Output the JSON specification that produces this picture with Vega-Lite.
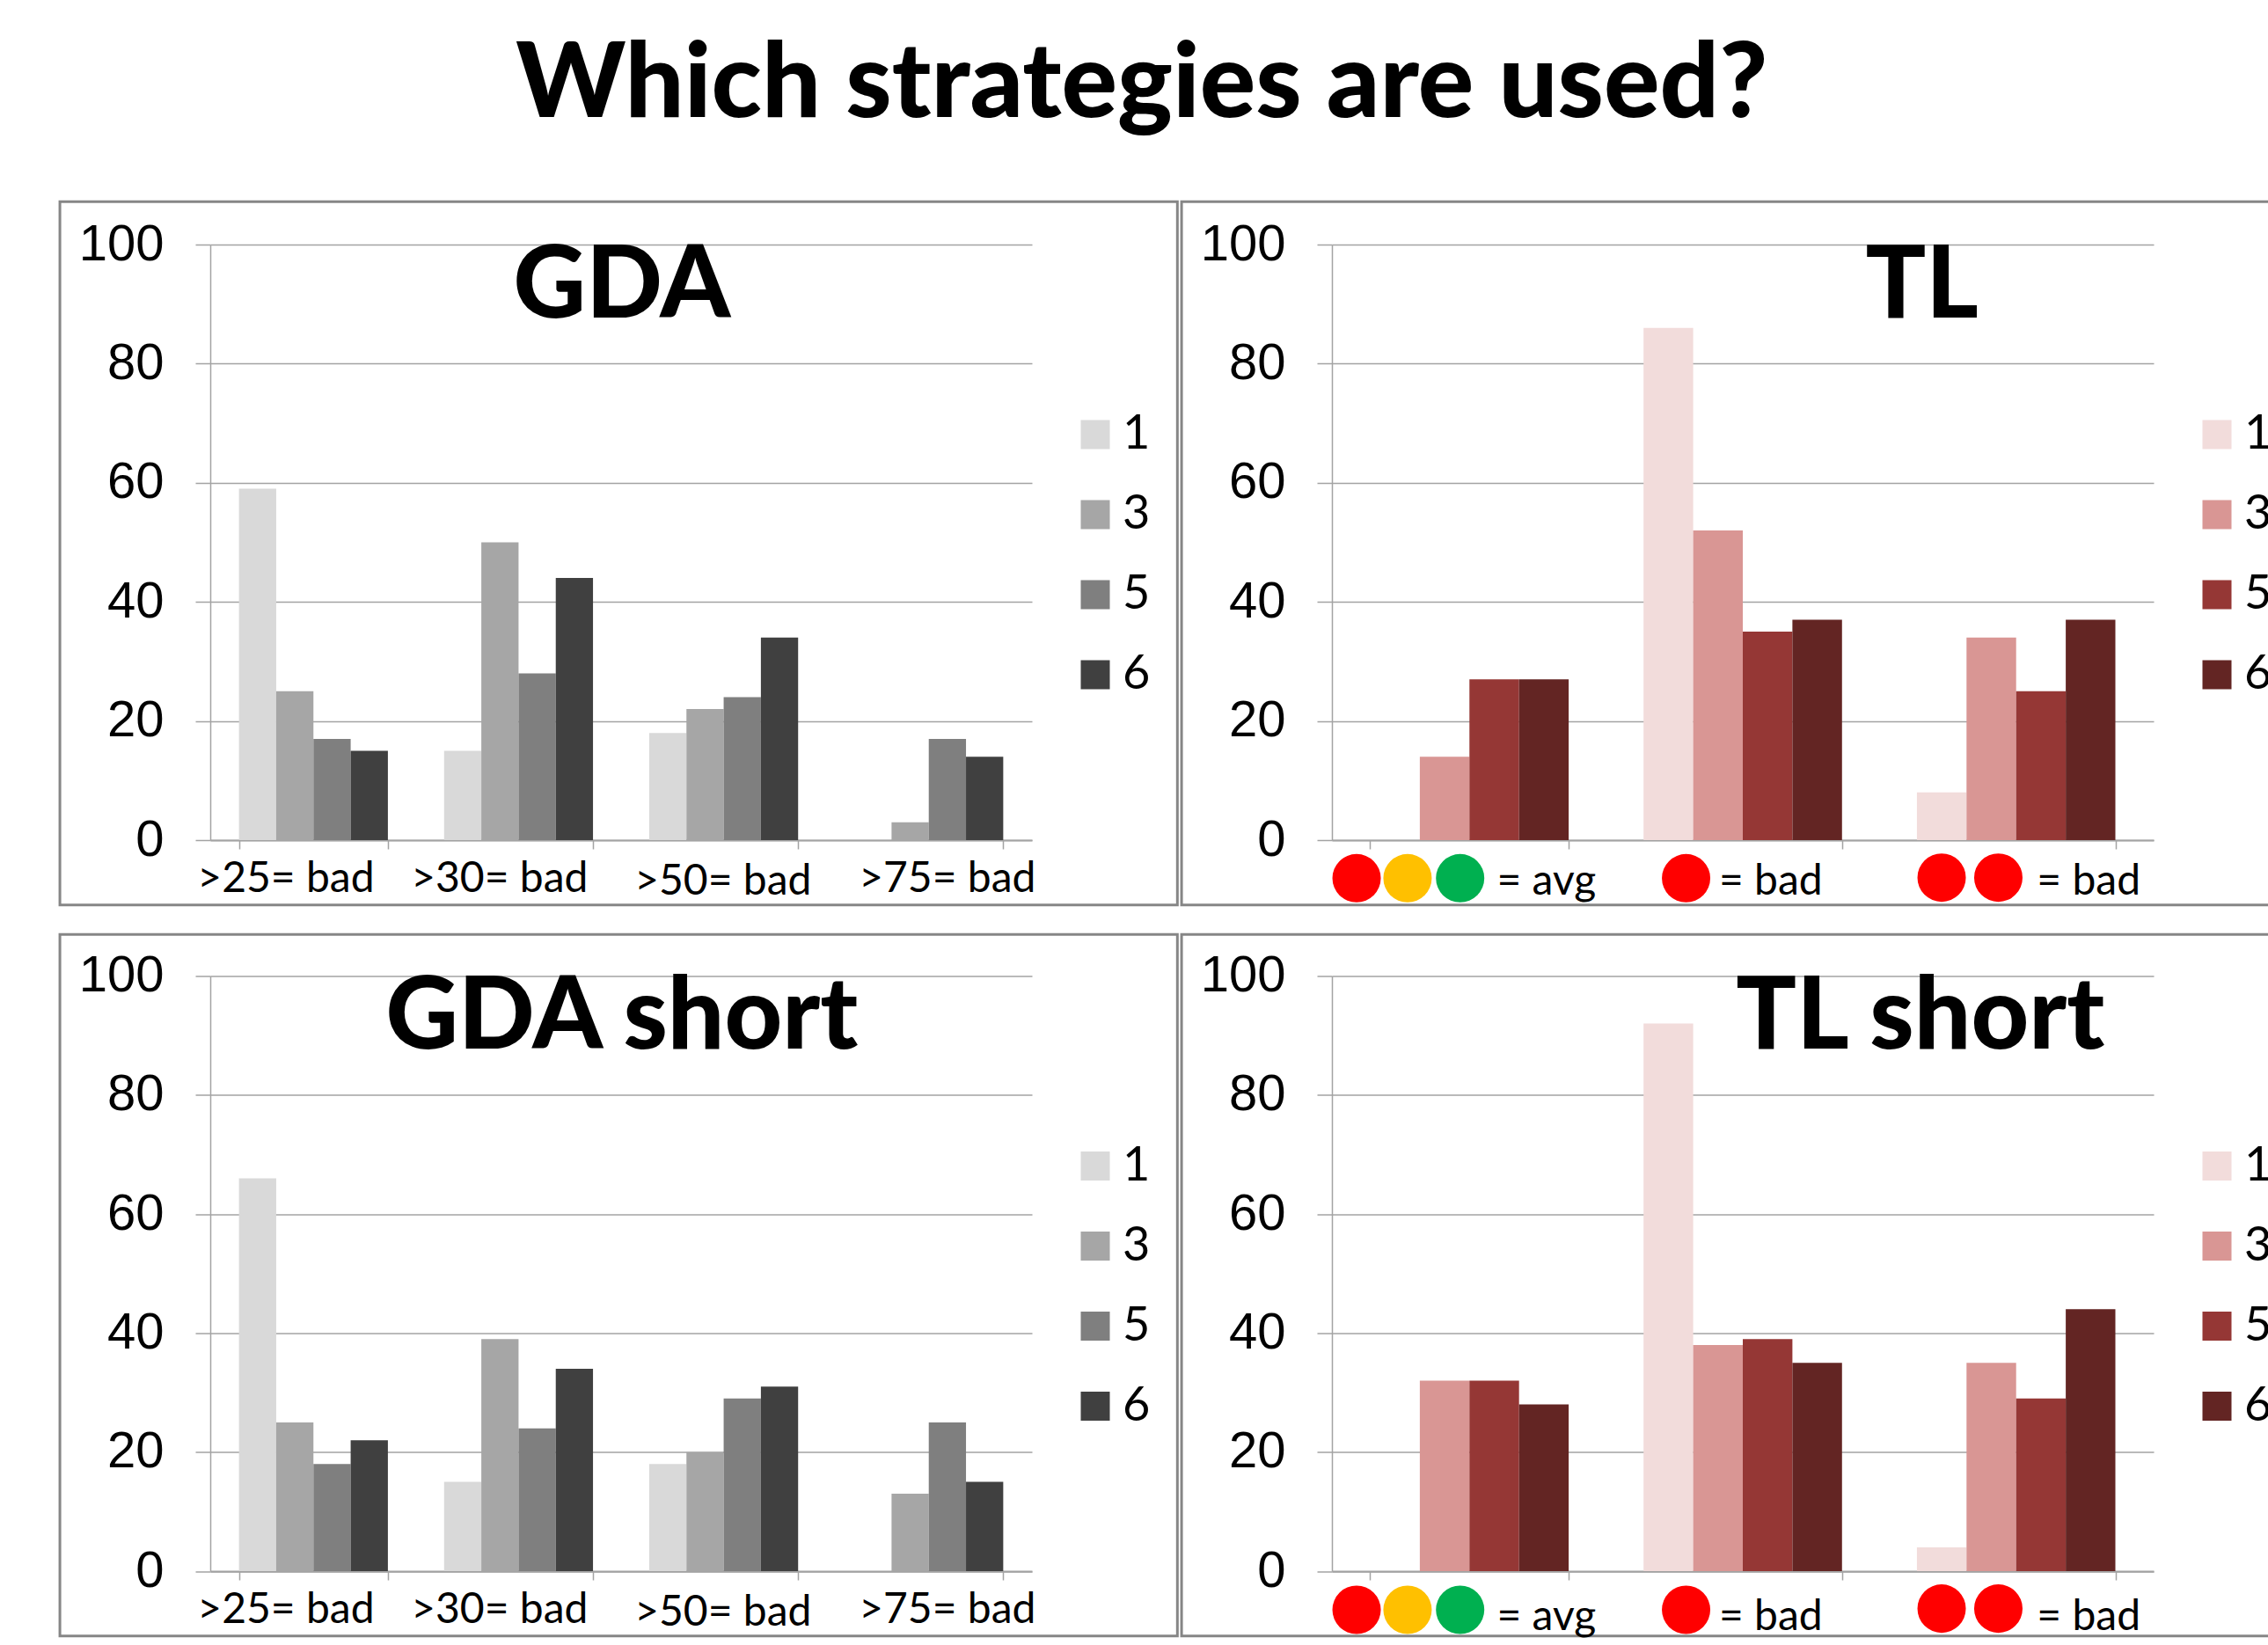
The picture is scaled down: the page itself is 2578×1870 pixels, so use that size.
{"$schema":"https://vega.github.io/schema/vega-lite/v6.json","background":"white","padding":{"left":66,"top":38,"right":0,"bottom":0},"title":{"text":"Which strategies are used?","font":"Lato","fontWeight":900,"fontSize":118.5,"color":"#000000","anchor":"middle","offset":70,"dx":-35},"resolve":{"scale":{"color":"independent","xOffset":"independent"},"legend":{"color":"independent"}},"config":{"view":{"stroke":null},"axisY":{"grid":true,"gridColor":"#a3a3a3","gridWidth":1.5,"domainColor":"#a3a3a3","domainWidth":1.5,"tickColor":"#a3a3a3","tickWidth":1.5,"tickSize":17,"labelFont":"Liberation Sans","labelFontSize":58,"labelColor":"#000000","labelPadding":36,"title":null},"axisX":{"labels":false,"tickBand":"extent","domainColor":"#a3a3a3","domainWidth":2,"tickColor":"#a3a3a3","tickWidth":1.5,"tickSize":10,"title":null,"grid":false},"legend":{"orient":"none","legendX":979,"legendY":189,"title":null,"symbolType":"square","symbolSize":1089,"labelFont":"Lato","labelFontSize":54,"labelColor":"#000000","labelOffset":4,"rowPadding":37,"symbolStrokeWidth":0}},"datasets":{"bars":[{"panel":"GDA","cat":">25","series":"1","value":59},{"panel":"GDA","cat":">25","series":"3","value":25},{"panel":"GDA","cat":">25","series":"5","value":17},{"panel":"GDA","cat":">25","series":"6","value":15},{"panel":"GDA","cat":">30","series":"1","value":15},{"panel":"GDA","cat":">30","series":"3","value":50},{"panel":"GDA","cat":">30","series":"5","value":28},{"panel":"GDA","cat":">30","series":"6","value":44},{"panel":"GDA","cat":">50","series":"1","value":18},{"panel":"GDA","cat":">50","series":"3","value":22},{"panel":"GDA","cat":">50","series":"5","value":24},{"panel":"GDA","cat":">50","series":"6","value":34},{"panel":"GDA","cat":">75","series":"1","value":0},{"panel":"GDA","cat":">75","series":"3","value":3},{"panel":"GDA","cat":">75","series":"5","value":17},{"panel":"GDA","cat":">75","series":"6","value":14},{"panel":"TL","cat":"avg","series":"1","value":0},{"panel":"TL","cat":"avg","series":"3","value":14},{"panel":"TL","cat":"avg","series":"5","value":27},{"panel":"TL","cat":"avg","series":"6","value":27},{"panel":"TL","cat":"bad1","series":"1","value":86},{"panel":"TL","cat":"bad1","series":"3","value":52},{"panel":"TL","cat":"bad1","series":"5","value":35},{"panel":"TL","cat":"bad1","series":"6","value":37},{"panel":"TL","cat":"bad2","series":"1","value":8},{"panel":"TL","cat":"bad2","series":"3","value":34},{"panel":"TL","cat":"bad2","series":"5","value":25},{"panel":"TL","cat":"bad2","series":"6","value":37},{"panel":"GDA short","cat":">25","series":"1","value":66},{"panel":"GDA short","cat":">25","series":"3","value":25},{"panel":"GDA short","cat":">25","series":"5","value":18},{"panel":"GDA short","cat":">25","series":"6","value":22},{"panel":"GDA short","cat":">30","series":"1","value":15},{"panel":"GDA short","cat":">30","series":"3","value":39},{"panel":"GDA short","cat":">30","series":"5","value":24},{"panel":"GDA short","cat":">30","series":"6","value":34},{"panel":"GDA short","cat":">50","series":"1","value":18},{"panel":"GDA short","cat":">50","series":"3","value":20},{"panel":"GDA short","cat":">50","series":"5","value":29},{"panel":"GDA short","cat":">50","series":"6","value":31},{"panel":"GDA short","cat":">75","series":"1","value":0},{"panel":"GDA short","cat":">75","series":"3","value":13},{"panel":"GDA short","cat":">75","series":"5","value":25},{"panel":"GDA short","cat":">75","series":"6","value":15},{"panel":"TL short","cat":"avg","series":"1","value":0},{"panel":"TL short","cat":"avg","series":"3","value":32},{"panel":"TL short","cat":"avg","series":"5","value":32},{"panel":"TL short","cat":"avg","series":"6","value":28},{"panel":"TL short","cat":"bad1","series":"1","value":92},{"panel":"TL short","cat":"bad1","series":"3","value":38},{"panel":"TL short","cat":"bad1","series":"5","value":39},{"panel":"TL short","cat":"bad1","series":"6","value":35},{"panel":"TL short","cat":"bad2","series":"1","value":4},{"panel":"TL short","cat":"bad2","series":"3","value":35},{"panel":"TL short","cat":"bad2","series":"5","value":29},{"panel":"TL short","cat":"bad2","series":"6","value":44}],"frames":[{"panel":"GDA","l":-18.3,"r":117.7,"b":-10.9,"t":107.2},{"panel":"TL","l":-18.3,"r":116,"b":-10.9,"t":107.2},{"panel":"GDA short","l":-18.3,"r":117.7,"b":-10.9,"t":107},{"panel":"TL short","l":-18.3,"r":116,"b":-10.9,"t":107}],"texts":[{"panel":"GDA","kind":"head","text":"GDA","xp":50.1,"yp":87.7},{"panel":"TL","kind":"head","text":"TL","xp":71.8,"yp":87.7},{"panel":"GDA short","kind":"head","text":"GDA short","xp":50.1,"yp":87.8},{"panel":"TL short","kind":"head","text":"TL short","xp":71.6,"yp":87.8},{"panel":"GDA","kind":"cat","text":">25= bad","xp":9.2,"yp":-8.7},{"panel":"GDA","kind":"cat","text":">30= bad","xp":35.2,"yp":-8.7},{"panel":"GDA","kind":"cat","text":">50= bad","xp":62.4,"yp":-9.1},{"panel":"GDA","kind":"cat","text":">75= bad","xp":89.7,"yp":-8.7},{"panel":"GDA short","kind":"cat","text":">25= bad","xp":9.2,"yp":-8.7},{"panel":"GDA short","kind":"cat","text":">30= bad","xp":35.2,"yp":-8.7},{"panel":"GDA short","kind":"cat","text":">50= bad","xp":62.4,"yp":-9.1},{"panel":"GDA short","kind":"cat","text":">75= bad","xp":89.7,"yp":-8.7},{"panel":"TL","kind":"cat","text":"= avg","xp":26.1,"yp":-9.2},{"panel":"TL","kind":"cat","text":"= bad","xp":53.4,"yp":-9.2},{"panel":"TL","kind":"cat","text":"= bad","xp":92.1,"yp":-9.2},{"panel":"TL short","kind":"cat","text":"= avg","xp":26.1,"yp":-9.9},{"panel":"TL short","kind":"cat","text":"= bad","xp":53.4,"yp":-9.9},{"panel":"TL short","kind":"cat","text":"= bad","xp":92.1,"yp":-9.9}],"lamps":[{"panel":"TL","lamp":"red","xp":3.0,"yp":-6.4},{"panel":"TL","lamp":"amber","xp":9.2,"yp":-6.4},{"panel":"TL","lamp":"green","xp":15.6,"yp":-6.4},{"panel":"TL","lamp":"red","xp":43.1,"yp":-6.4},{"panel":"TL","lamp":"red","xp":74.2,"yp":-6.3},{"panel":"TL","lamp":"red","xp":81.1,"yp":-6.3},{"panel":"TL short","lamp":"red","xp":3.0,"yp":-6.5},{"panel":"TL short","lamp":"amber","xp":9.2,"yp":-6.5},{"panel":"TL short","lamp":"green","xp":15.6,"yp":-6.5},{"panel":"TL short","lamp":"red","xp":43.1,"yp":-6.5},{"panel":"TL short","lamp":"red","xp":74.2,"yp":-6.3},{"panel":"TL short","lamp":"red","xp":81.1,"yp":-6.3}]},"columns":2,"spacing":{"row":154.5,"column":341},"bounds":"flush","concat":[
{"width":934,"height":677,"resolve":{"scale":{"x":"independent"}},"layer":[
{"data":{"name":"frames"},"transform":[{"filter":"datum.panel==='GDA'"}],"mark":{"type":"rect","filled":false,"stroke":"#868686","strokeWidth":3},"encoding":{"x":{"field":"l","type":"quantitative","scale":{"domain":[0,100],"nice":false,"zero":false},"axis":null},"x2":{"field":"r"},"y":{"field":"b","type":"quantitative","scale":{"domain":[0,100]},"axis":{"values":[0,20,40,60,80,100]}},"y2":{"field":"t"}}},
{"data":{"name":"bars"},"transform":[{"filter":"datum.panel==='GDA'"}],"mark":"bar","encoding":{"x":{"field":"cat","type":"nominal","sort":null,"scale":{"paddingInner":0.274,"paddingOuter":0.14}},"xOffset":{"field":"series","type":"nominal"},"y":{"field":"value","type":"quantitative","scale":{"domain":[0,100]}},"color":{"field":"series","type":"nominal","scale":{"domain":["1","3","5","6"],"range":["#d9d9d9","#a6a6a6","#7f7f7f","#404040"]}}}},
{"data":{"name":"texts"},"transform":[{"filter":"datum.panel==='GDA'&&datum.kind==='head'"}],"mark":{"type":"text","font":"Lato","fontWeight":900,"fontSize":114,"color":"#000000","baseline":"alphabetic","align":"center"},"encoding":{"x":{"field":"xp","type":"quantitative","scale":{"domain":[0,100],"nice":false,"zero":false},"axis":null},"y":{"field":"yp","type":"quantitative","scale":{"domain":[0,100]}},"text":{"field":"text"}}},
{"data":{"name":"texts"},"transform":[{"filter":"datum.panel==='GDA'&&datum.kind==='cat'"}],"mark":{"type":"text","font":"Lato","fontSize":48,"color":"#000000","baseline":"alphabetic","align":"center"},"encoding":{"x":{"field":"xp","type":"quantitative","scale":{"domain":[0,100],"nice":false,"zero":false},"axis":null},"y":{"field":"yp","type":"quantitative","scale":{"domain":[0,100]}},"text":{"field":"text"}}}
]},
{"width":934,"height":677,"resolve":{"scale":{"x":"independent"}},"layer":[
{"data":{"name":"frames"},"transform":[{"filter":"datum.panel==='TL'"}],"mark":{"type":"rect","filled":false,"stroke":"#868686","strokeWidth":3},"encoding":{"x":{"field":"l","type":"quantitative","scale":{"domain":[0,100],"nice":false,"zero":false},"axis":null},"x2":{"field":"r"},"y":{"field":"b","type":"quantitative","scale":{"domain":[0,100]},"axis":{"values":[0,20,40,60,80,100]}},"y2":{"field":"t"}}},
{"data":{"name":"bars"},"transform":[{"filter":"datum.panel==='TL'"}],"mark":"bar","encoding":{"x":{"field":"cat","type":"nominal","sort":null,"scale":{"paddingInner":0.274,"paddingOuter":0.14}},"xOffset":{"field":"series","type":"nominal"},"y":{"field":"value","type":"quantitative","scale":{"domain":[0,100]}},"color":{"field":"series","type":"nominal","scale":{"domain":["1","3","5","6"],"range":["#f2dcdb","#d99694","#953735","#632523"]}}}},
{"data":{"name":"texts"},"transform":[{"filter":"datum.panel==='TL'&&datum.kind==='head'"}],"mark":{"type":"text","font":"Lato","fontWeight":900,"fontSize":114,"color":"#000000","baseline":"alphabetic","align":"center"},"encoding":{"x":{"field":"xp","type":"quantitative","scale":{"domain":[0,100],"nice":false,"zero":false},"axis":null},"y":{"field":"yp","type":"quantitative","scale":{"domain":[0,100]}},"text":{"field":"text"}}},
{"data":{"name":"texts"},"transform":[{"filter":"datum.panel==='TL'&&datum.kind==='cat'"}],"mark":{"type":"text","font":"Lato","fontSize":48,"color":"#000000","baseline":"alphabetic","align":"center"},"encoding":{"x":{"field":"xp","type":"quantitative","scale":{"domain":[0,100],"nice":false,"zero":false},"axis":null},"y":{"field":"yp","type":"quantitative","scale":{"domain":[0,100]}},"text":{"field":"text"}}},
{"data":{"name":"lamps"},"transform":[{"filter":"datum.panel==='TL'&&datum.lamp==='red'"}],"mark":{"type":"point","shape":"circle","filled":true,"size":3025,"color":"#ff0000","opacity":1},"encoding":{"x":{"field":"xp","type":"quantitative","scale":{"domain":[0,100],"nice":false,"zero":false},"axis":null},"y":{"field":"yp","type":"quantitative","scale":{"domain":[0,100]}}}},
{"data":{"name":"lamps"},"transform":[{"filter":"datum.panel==='TL'&&datum.lamp==='amber'"}],"mark":{"type":"point","shape":"circle","filled":true,"size":3025,"color":"#ffc000","opacity":1},"encoding":{"x":{"field":"xp","type":"quantitative","scale":{"domain":[0,100],"nice":false,"zero":false},"axis":null},"y":{"field":"yp","type":"quantitative","scale":{"domain":[0,100]}}}},
{"data":{"name":"lamps"},"transform":[{"filter":"datum.panel==='TL'&&datum.lamp==='green'"}],"mark":{"type":"point","shape":"circle","filled":true,"size":3025,"color":"#00b050","opacity":1},"encoding":{"x":{"field":"xp","type":"quantitative","scale":{"domain":[0,100],"nice":false,"zero":false},"axis":null},"y":{"field":"yp","type":"quantitative","scale":{"domain":[0,100]}}}}
]},
{"width":934,"height":676.5,"resolve":{"scale":{"x":"independent"}},"layer":[
{"data":{"name":"frames"},"transform":[{"filter":"datum.panel==='GDA short'"}],"mark":{"type":"rect","filled":false,"stroke":"#868686","strokeWidth":3},"encoding":{"x":{"field":"l","type":"quantitative","scale":{"domain":[0,100],"nice":false,"zero":false},"axis":null},"x2":{"field":"r"},"y":{"field":"b","type":"quantitative","scale":{"domain":[0,100]},"axis":{"values":[0,20,40,60,80,100]}},"y2":{"field":"t"}}},
{"data":{"name":"bars"},"transform":[{"filter":"datum.panel==='GDA short'"}],"mark":"bar","encoding":{"x":{"field":"cat","type":"nominal","sort":null,"scale":{"paddingInner":0.274,"paddingOuter":0.14}},"xOffset":{"field":"series","type":"nominal"},"y":{"field":"value","type":"quantitative","scale":{"domain":[0,100]}},"color":{"field":"series","type":"nominal","scale":{"domain":["1","3","5","6"],"range":["#d9d9d9","#a6a6a6","#7f7f7f","#404040"]}}}},
{"data":{"name":"texts"},"transform":[{"filter":"datum.panel==='GDA short'&&datum.kind==='head'"}],"mark":{"type":"text","font":"Lato","fontWeight":900,"fontSize":114,"color":"#000000","baseline":"alphabetic","align":"center"},"encoding":{"x":{"field":"xp","type":"quantitative","scale":{"domain":[0,100],"nice":false,"zero":false},"axis":null},"y":{"field":"yp","type":"quantitative","scale":{"domain":[0,100]}},"text":{"field":"text"}}},
{"data":{"name":"texts"},"transform":[{"filter":"datum.panel==='GDA short'&&datum.kind==='cat'"}],"mark":{"type":"text","font":"Lato","fontSize":48,"color":"#000000","baseline":"alphabetic","align":"center"},"encoding":{"x":{"field":"xp","type":"quantitative","scale":{"domain":[0,100],"nice":false,"zero":false},"axis":null},"y":{"field":"yp","type":"quantitative","scale":{"domain":[0,100]}},"text":{"field":"text"}}}
]},
{"width":934,"height":676.5,"resolve":{"scale":{"x":"independent"}},"layer":[
{"data":{"name":"frames"},"transform":[{"filter":"datum.panel==='TL short'"}],"mark":{"type":"rect","filled":false,"stroke":"#868686","strokeWidth":3},"encoding":{"x":{"field":"l","type":"quantitative","scale":{"domain":[0,100],"nice":false,"zero":false},"axis":null},"x2":{"field":"r"},"y":{"field":"b","type":"quantitative","scale":{"domain":[0,100]},"axis":{"values":[0,20,40,60,80,100]}},"y2":{"field":"t"}}},
{"data":{"name":"bars"},"transform":[{"filter":"datum.panel==='TL short'"}],"mark":"bar","encoding":{"x":{"field":"cat","type":"nominal","sort":null,"scale":{"paddingInner":0.274,"paddingOuter":0.14}},"xOffset":{"field":"series","type":"nominal"},"y":{"field":"value","type":"quantitative","scale":{"domain":[0,100]}},"color":{"field":"series","type":"nominal","scale":{"domain":["1","3","5","6"],"range":["#f2dcdb","#d99694","#953735","#632523"]}}}},
{"data":{"name":"texts"},"transform":[{"filter":"datum.panel==='TL short'&&datum.kind==='head'"}],"mark":{"type":"text","font":"Lato","fontWeight":900,"fontSize":114,"color":"#000000","baseline":"alphabetic","align":"center"},"encoding":{"x":{"field":"xp","type":"quantitative","scale":{"domain":[0,100],"nice":false,"zero":false},"axis":null},"y":{"field":"yp","type":"quantitative","scale":{"domain":[0,100]}},"text":{"field":"text"}}},
{"data":{"name":"texts"},"transform":[{"filter":"datum.panel==='TL short'&&datum.kind==='cat'"}],"mark":{"type":"text","font":"Lato","fontSize":48,"color":"#000000","baseline":"alphabetic","align":"center"},"encoding":{"x":{"field":"xp","type":"quantitative","scale":{"domain":[0,100],"nice":false,"zero":false},"axis":null},"y":{"field":"yp","type":"quantitative","scale":{"domain":[0,100]}},"text":{"field":"text"}}},
{"data":{"name":"lamps"},"transform":[{"filter":"datum.panel==='TL short'&&datum.lamp==='red'"}],"mark":{"type":"point","shape":"circle","filled":true,"size":3025,"color":"#ff0000","opacity":1},"encoding":{"x":{"field":"xp","type":"quantitative","scale":{"domain":[0,100],"nice":false,"zero":false},"axis":null},"y":{"field":"yp","type":"quantitative","scale":{"domain":[0,100]}}}},
{"data":{"name":"lamps"},"transform":[{"filter":"datum.panel==='TL short'&&datum.lamp==='amber'"}],"mark":{"type":"point","shape":"circle","filled":true,"size":3025,"color":"#ffc000","opacity":1},"encoding":{"x":{"field":"xp","type":"quantitative","scale":{"domain":[0,100],"nice":false,"zero":false},"axis":null},"y":{"field":"yp","type":"quantitative","scale":{"domain":[0,100]}}}},
{"data":{"name":"lamps"},"transform":[{"filter":"datum.panel==='TL short'&&datum.lamp==='green'"}],"mark":{"type":"point","shape":"circle","filled":true,"size":3025,"color":"#00b050","opacity":1},"encoding":{"x":{"field":"xp","type":"quantitative","scale":{"domain":[0,100],"nice":false,"zero":false},"axis":null},"y":{"field":"yp","type":"quantitative","scale":{"domain":[0,100]}}}}
]}
]}
